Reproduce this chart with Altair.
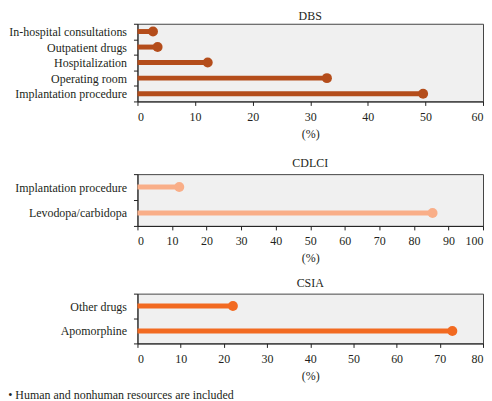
import altair as alt
import pandas as pd

dbs_items = ["In-hospital consultations", "Outpatient drugs", "Hospitalization",
             "Operating room", "Implantation procedure"]
dbs_values = [2.7, 3.5, 12.2, 32.9, 49.6]

cdlci_items = ["Implantation procedure", "Levodopa/carbidopa"]
cdlci_values = [12.1, 85.4]

csia_items = ["Other drugs", "Apomorphine"]
csia_values = [22.1, 72.9]

footnote = "\u2022 Human and nonhuman resources are included"

FONT = "Liberation Serif"
TXT = "#231f20"


def panel(items, values, color, title, xmax, height, toff):
    df = pd.DataFrame({"item": items, "value": values})
    y = alt.Y("item:N", sort=items, title=None,
              scale=alt.Scale(paddingInner=0, paddingOuter=0),
              axis=alt.Axis(tickBand="extent", tickSize=4, labelPadding=7,
                            labelFontSize=12, domain=True))
    xaxis = alt.Axis(values=list(range(0, xmax + 1, 10)), tickSize=4,
                     labelPadding=6, labelFontSize=12, labelOverlap=False,
                     titlePadding=6, titleFontSize=12)
    xscale = alt.Scale(domain=[0, xmax], nice=False)
    base = alt.Chart(df)
    rule = base.mark_rule(color=color, strokeWidth=5).encode(
        x=alt.X("zero:Q", scale=xscale, axis=xaxis, title="(%)"),
        x2="value:Q", y=y
    ).transform_calculate(zero="0")
    dot = base.mark_circle(color=color, size=100, opacity=1).encode(
        x=alt.X("value:Q", scale=xscale, axis=xaxis, title="(%)"), y=y)
    return alt.layer(rule, dot).properties(
        width=347, height=height,
        title=alt.TitleParams(title, fontSize=12, fontWeight="normal",
                              offset=toff, color=TXT, font=FONT),
    )


p1 = panel(dbs_items, dbs_values, "#b44d1b", "DBS", 60, 78, -5)
p2 = panel(cdlci_items, cdlci_values, "#f9ae88", "CDLCI", 100, 52, -2)
p3 = panel(csia_items, csia_values, "#f26a21", "CSIA", 80, 50, -2)

top = alt.vconcat(p1, p2, spacing=16)

chart = alt.vconcat(top, p3, spacing=11).properties(
    title=alt.TitleParams(footnote, orient="bottom", anchor="start",
                          frame="bounds", fontSize=12, fontWeight="normal",
                          offset=8, color=TXT, font=FONT),
    padding={"left": 0, "top": 0, "right": 0, "bottom": 0},
).configure(font=FONT).configure_axis(
    labelColor=TXT, titleColor=TXT, domainColor="#222", tickColor="#222",
    grid=False, labelFont=FONT, titleFont=FONT, titleFontWeight="normal",
).configure_view(fill="#f0f0f0", stroke="#444", strokeWidth=1)

chart.save("out.html", embed_options={"renderer": "svg", "actions": False})
